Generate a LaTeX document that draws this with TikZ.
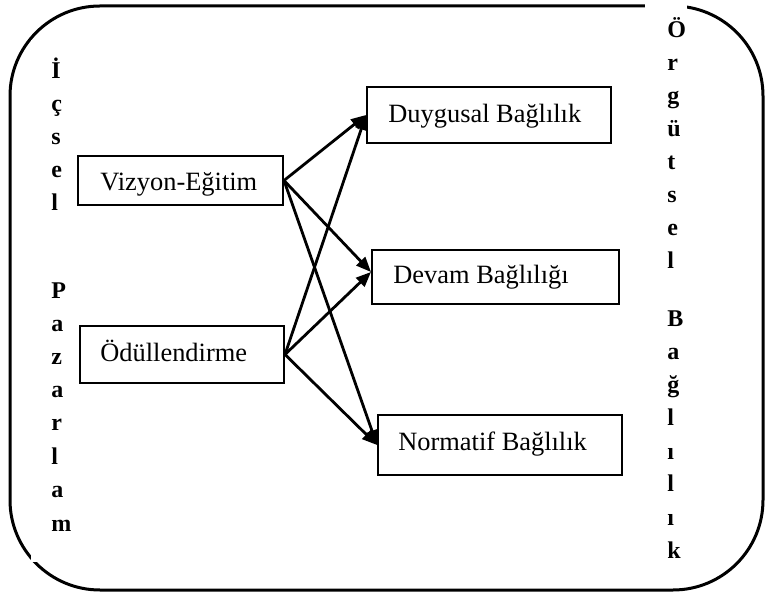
\documentclass[tikz,border=0pt]{standalone}
\usepackage{fontspec}
\setmainfont{Liberation Serif}[BoldFont={Liberation Serif Bold}]
\usetikzlibrary{arrows.meta}
\begin{document}
\begin{tikzpicture}[x=0.5pt,y=-0.5pt,
  outer/.style={line width=1.5pt,rounded corners=45pt},
  boxst/.style={draw,line width=1pt,inner sep=0pt,rectangle},
  lbl/.style={inner sep=0pt,anchor=base west,font=\fontsize{13.2}{15}\selectfont},
  vl/.style={inner sep=0pt,anchor=base west,font=\fontsize{12}{14}\selectfont\bfseries},
  arr/.style={line width=1.4pt,-{Triangle[length=7.5pt,width=6pt]}}]
\useasboundingbox (0,0) rectangle (765,592);
\draw[outer] (10,6) rectangle (763,590);
\fill[white] (31,40) rectangle (74,562);
\fill[white] (645,2) rectangle (687,570);
% boxes
\node[boxst,minimum width=102.5pt,minimum height=24.5pt] (viz) at (180.5,180.5) {};
\node[boxst,minimum width=102pt,minimum height=28.5pt] (odu) at (182,354.5) {};
\node[boxst,minimum width=122pt,minimum height=28pt] (duy) at (489,115) {};
\node[boxst,minimum width=123.5pt,minimum height=27pt] (dev) at (495.5,277) {};
\node[boxst,minimum width=122pt,minimum height=30pt] (nor) at (500,445) {};
% labels
\node[lbl] (tviz) at (100,191) {Vizyon-Eğitim};
\node[lbl] (todu) at (100,362) {Ödüllendirme};
\node[lbl] (tduy) at (388,123) {Duygusal Bağlılık};
\node[lbl] (tdev) at (393,284) {Devam Bağlılığı};
\node[lbl] (tnor) at (398,451) {Normatif Bağlılık};
% vertical texts
\foreach \t/\yy [count=\k] in {İ/79,ç/112,s/145,e/178,l/211,P/299,a/332,z/365,a/398,r/431,l/465,a/498,m/531}
  \node[vl] (L\k) at (51,\yy) {\t};
\foreach \t/\yy [count=\k] in {Ö/38,r/71,g/104,ü/137,t/170,s/203,e/236,l/269,B/327,a/360,ğ/393,l/426,ı/459,l/492,ı/525,k/558}
  \node[vl] (R\k) at (667,\yy) {\t};
% arrows
\draw[arr] (viz.east) -- (duy.west);
\draw[arr] (viz.east) -- ([yshift=2.5pt]dev.west);
\draw[arr] (viz.east) -- (nor.west);
\draw[arr] (odu.east) -- (duy.west);
\draw[arr] (odu.east) -- ([yshift=2.5pt]dev.west);
\draw[arr] (odu.east) -- (nor.west);
\end{tikzpicture}
\end{document}
